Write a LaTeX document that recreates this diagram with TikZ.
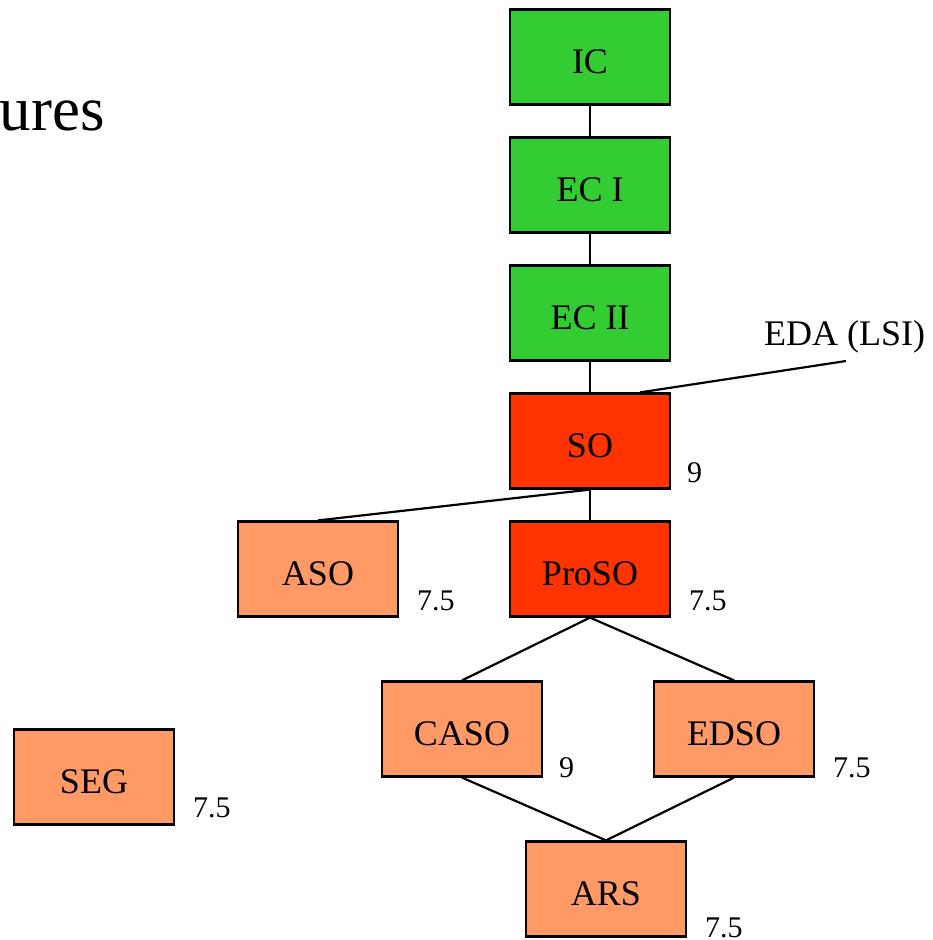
\documentclass[tikz,border=0pt]{standalone}
\usepackage{fontspec}
\setmainfont{Liberation Serif}
\definecolor{cgreen}{HTML}{33CC33}
\definecolor{cred}{HTML}{FF3300}
\definecolor{csalmon}{HTML}{FF9966}
\tikzset{
  course/.style={draw=black, line width=2.2pt, minimum width=160pt, minimum height=95pt,
    inner sep=0pt, text height=32pt, text depth=0pt, font=\fontsize{36}{40}\selectfont},
  core/.style={course, fill=cgreen},
  major/.style={course, fill=cred},
  minor/.style={course, fill=csalmon},
  credit/.style={anchor=base west, inner sep=0pt, font=\fontsize{30}{34}\selectfont},
  link/.style={line width=2.2pt}
}
\begin{document}
\begin{tikzpicture}[x=1pt, y=-1pt]
\useasboundingbox (0,0) rectangle (932,940);

% heading fragment at the left edge
\node[anchor=base east, inner sep=0pt, font=\fontsize{63}{67}\selectfont] (head) at (105,130) {ures};

% course boxes
\node[core]  (ic)    at (590,57)  {IC};
\node[core]  (ec1)   at (590,185) {EC I};
\node[core]  (ec2)   at (590,313) {EC II};
\node[major] (so)    at (590,441) {SO};
\node[major] (proso) at (590,569) {ProSO};
\node[minor] (aso)   at (318,569) {ASO};
\node[minor] (caso)  at (462,729) {CASO};
\node[minor] (edso)  at (734,729) {EDSO};
\node[minor] (ars)   at (606,889) {ARS};
\node[minor] (seg)   at (94,777)  {SEG};

% credit values
\node[credit] (cso)    at (687,482) {9};
\node[credit] (caso5)  at (417,610) {7.5};
\node[credit] (cproso) at (689,610) {7.5};
\node[credit] (ccaso)  at (559,777) {9};
\node[credit] (cedso)  at (833,777) {7.5};
\node[credit] (cseg)   at (193,817) {7.5};
\node[credit] (cars)   at (705,937) {7.5};

% external label
\node[anchor=base west, inner sep=0pt, font=\fontsize{36}{40}\selectfont] (eda) at (764,345) {EDA (LSI)};
\coordinate (edaend) at (846,361);

% connectors
\draw[link] (ic.south) -- (ec1.north);
\draw[link] (ec1.south) -- (ec2.north);
\draw[link] (ec2.south) -- (so.north);
\draw[link] (so.south) -- (proso.north);
\draw[link] ([xshift=50pt]so.north) -- (edaend);
\draw[link] (so.south) -- (aso.north);
\draw[link] (proso.south) -- (caso.north);
\draw[link] (proso.south) -- (edso.north);
\draw[link] (caso.south) -- (ars.north);
\draw[link] (edso.south) -- (ars.north);
\end{tikzpicture}
\end{document}
